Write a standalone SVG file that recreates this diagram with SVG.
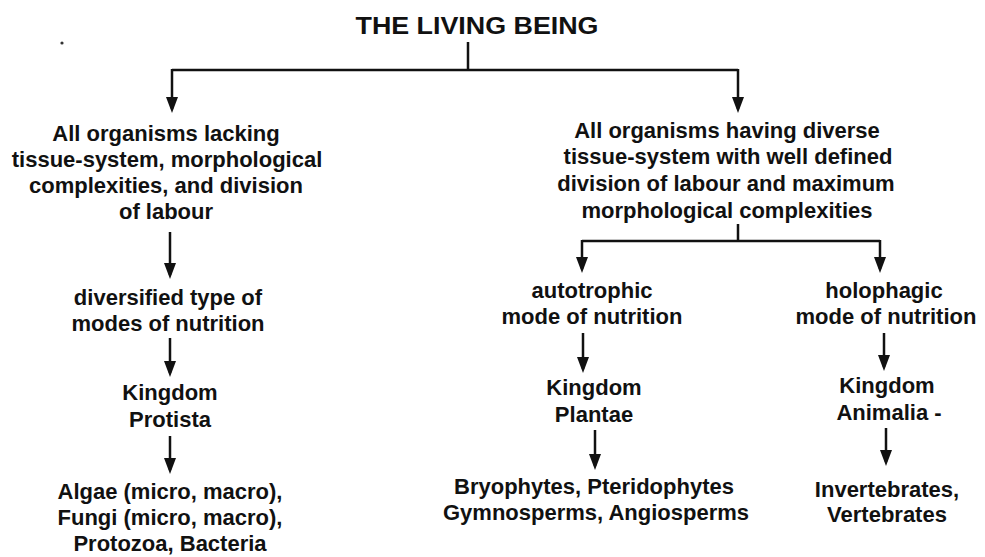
<svg xmlns="http://www.w3.org/2000/svg" width="985" height="557" viewBox="0 0 985 557">
<defs>
<marker id="ah" markerUnits="userSpaceOnUse" markerWidth="16" markerHeight="12" refX="12" refY="6" orient="auto" viewBox="0 0 16 12">
<path d="M0,0 L16,6 L0,12 Z" fill="#111"/>
</marker>
<style>
text{font-family:"Liberation Sans",Arial,sans-serif;font-weight:bold;font-size:22px;fill:#111;text-anchor:middle}
.t{font-size:23px}
.c{fill:none;stroke:#111;stroke-width:2.5}
.a{fill:none;stroke:#111;stroke-width:2.5}
</style>
</defs>
<rect width="985" height="557" fill="#fff"/>
<circle cx="62" cy="43" r="1.6" fill="#333"/>
<g id="connectors">
<path class="c" d="M468,42 V70 M172,70 H738"/>
<path class="a" d="M172,69 V109" marker-end="url(#ah)"/>
<path class="a" d="M738,69 V109" marker-end="url(#ah)"/>
<path class="a" d="M170,232 V275" marker-end="url(#ah)"/>
<path class="a" d="M170,338 V373" marker-end="url(#ah)"/>
<path class="a" d="M170,436 V470" marker-end="url(#ah)"/>
<path class="c" d="M738,224 V241 M582,241 H880"/>
<path class="a" d="M582,240 V269" marker-end="url(#ah)"/>
<path class="a" d="M880,240 V269" marker-end="url(#ah)"/>
<path class="a" d="M583,333 V369" marker-end="url(#ah)"/>
<path class="a" d="M884,333 V367" marker-end="url(#ah)"/>
<path class="a" d="M595,430 V466" marker-end="url(#ah)"/>
<path class="a" d="M886,428 V462" marker-end="url(#ah)"/>
</g>
<g id="root"><text class="t" x="477" y="34" textLength="243" lengthAdjust="spacingAndGlyphs">THE LIVING BEING</text></g>
<g id="lacking">
<text x="166" y="141">All organisms lacking</text>
<text x="167" y="167">tissue-system, morphological</text>
<text x="166" y="193">complexities, and division</text>
<text x="166" y="219">of labour</text>
</g>
<g id="diversified">
<text x="168" y="305">diversified type of</text>
<text x="168" y="331">modes of nutrition</text>
</g>
<g id="protista">
<text x="170" y="400">Kingdom</text>
<text x="170" y="427">Protista</text>
</g>
<g id="protista-members">
<text x="170" y="499">Algae (micro, macro),</text>
<text x="170" y="525">Fungi (micro, macro),</text>
<text x="170" y="551">Protozoa, Bacteria</text>
</g>
<g id="having">
<text x="727" y="138">All organisms having diverse</text>
<text x="728" y="164">tissue-system with well defined</text>
<text x="726" y="191">division of labour and maximum</text>
<text x="727" y="218">morphological complexities</text>
</g>
<g id="autotrophic">
<text x="592" y="298">autotrophic</text>
<text x="592" y="324">mode of nutrition</text>
</g>
<g id="holophagic">
<text x="884" y="298">holophagic</text>
<text x="886" y="324">mode of nutrition</text>
</g>
<g id="plantae">
<text x="594" y="395">Kingdom</text>
<text x="594" y="422">Plantae</text>
</g>
<g id="plantae-members">
<text x="594" y="494">Bryophytes, Pteridophytes</text>
<text x="596" y="520">Gymnosperms, Angiosperms</text>
</g>
<g id="animalia">
<text x="887" y="393">Kingdom</text>
<text x="889" y="420">Animalia -</text>
</g>
<g id="animalia-members">
<text x="887" y="497">Invertebrates,</text>
<text x="887" y="522">Vertebrates</text>
</g>
</svg>
